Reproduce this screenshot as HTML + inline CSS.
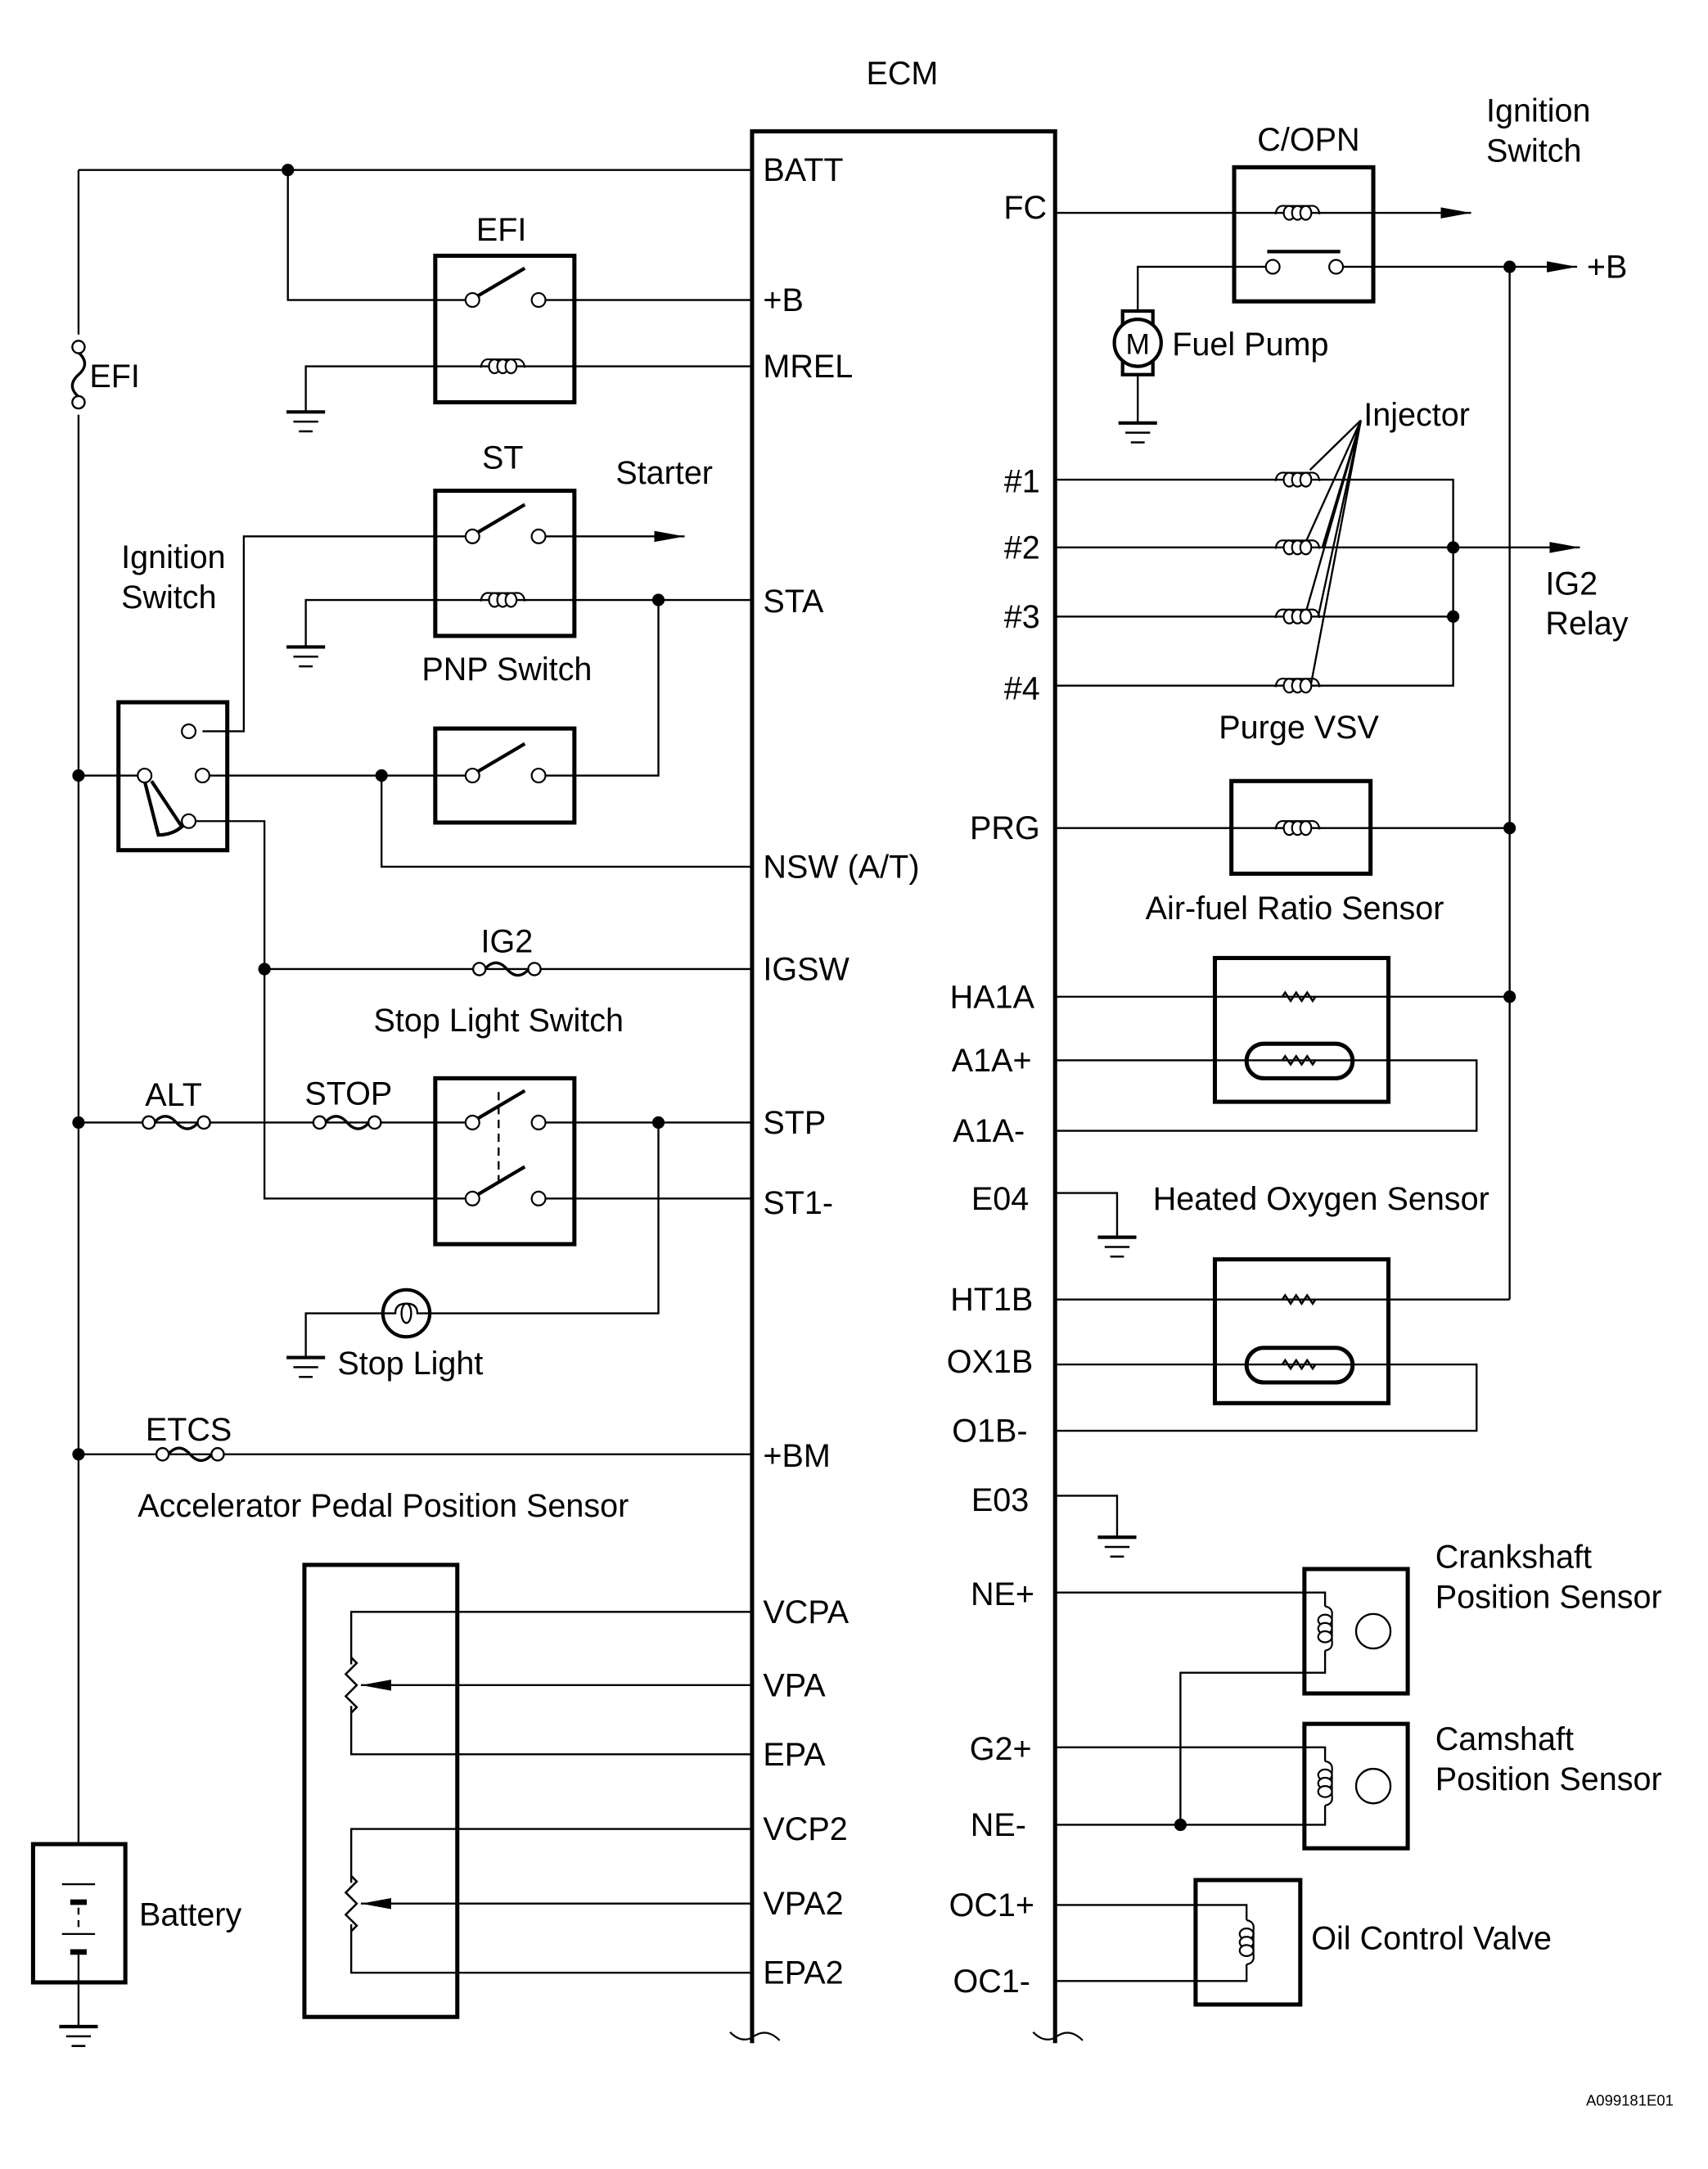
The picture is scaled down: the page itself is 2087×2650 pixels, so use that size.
<!DOCTYPE html>
<html><head><meta charset="utf-8"><style>
html,body{margin:0;padding:0;background:#fff}
svg{display:block}
text{font-family:"Liberation Sans",Arial,sans-serif;font-size:23.5px;fill:#000}
</style></head><body>
<svg width="2087" height="2650" viewBox="0 0 1240 1569" preserveAspectRatio="none" xmlns="http://www.w3.org/2000/svg">
<defs>
<g id="coil" fill="#fff" stroke="#000" stroke-width="1.3">
<path d="M-16,1 Q-15,-6 -9,-5 L9,-5 Q15,-6 16,1" fill="none"/>
<ellipse cx="-6" cy="0" rx="4" ry="5"/><ellipse cx="0" cy="0" rx="4" ry="5"/><ellipse cx="6" cy="0" rx="4" ry="5"/>
</g>
<g id="vcoil" fill="#fff" stroke="#000" stroke-width="1.3">
<path d="M0,-16 Q6,-15 5,-9 L5,9 Q6,15 0,16" fill="none"/>
<ellipse cx="0" cy="-6" rx="5" ry="4"/><ellipse cx="0" cy="0" rx="5" ry="4"/><ellipse cx="0" cy="6" rx="5" ry="4"/>
</g>
<g id="fuse" stroke="#000" stroke-width="1.4">
<path d="M-16,0 q8,-9 16,0 q8,9 16,0" fill="none" stroke-width="2"/>
<circle cx="-20" cy="0" r="4.5" fill="#fff"/><circle cx="20" cy="0" r="4.5" fill="#fff"/>
</g>
<g id="gnd" stroke="#000">
<line x1="-14" y1="0" x2="14" y2="0" stroke-width="2.5"/>
<line x1="-9" y1="7" x2="9" y2="7" stroke-width="1.5"/>
<line x1="-5" y1="14" x2="5" y2="14" stroke-width="1.5"/>
</g>
<g id="res" fill="none" stroke="#000" stroke-width="1.5">
<path d="M-12,0 l2,-3 l4,6 l4,-6 l4,6 l4,-6 l4,6 l2,-3"/>
</g>
<g id="vres" fill="none" stroke="#000" stroke-width="1.5">
<path d="M0,-20 l4,4 l-8,8 l8,8 l-8,8 l8,8 l-4,4"/>
</g>
<g id="sw" stroke="#000">
<line x1="4" y1="-3" x2="38" y2="-23" stroke-width="2.5"/>
<circle cx="0" cy="0" r="5" fill="#fff" stroke-width="1.3"/>
<circle cx="48" cy="0" r="5" fill="#fff" stroke-width="1.3"/>
</g>
<marker id="arr" viewBox="0 0 22 10" refX="22" refY="5" markerWidth="22" markerHeight="10" markerUnits="userSpaceOnUse" orient="auto">
<path d="M0,1 L22,5 L0,9 Z" fill="#000"/></marker>
</defs>

<g stroke="#000" stroke-width="1.4" fill="none">
<path d="M546,1478 V95 H766 V1478" stroke-width="3"/>
<path d="M530,1470 q8,8 16,4 q10,-8 20,2 M750,1470 q8,8 16,4 q10,-8 20,2" stroke-width="1.3"/>

<line x1="57" y1="123" x2="57" y2="242"/>
<line x1="57" y1="300" x2="57" y2="1334"/>
<line x1="57" y1="123" x2="546" y2="123"/>
<path d="M209,123 V217 H343"/>
<line x1="391" y1="217" x2="546" y2="217"/>
<rect x="316" y="185" width="101" height="106" stroke-width="3"/>
<path d="M222,298 V265 H546"/>
<rect x="316" y="355" width="101" height="105" stroke-width="3"/>
<path d="M147,529 H177 V388 H343"/>
<line x1="391" y1="388" x2="497" y2="388" marker-end="url(#arr)"/>
<path d="M222,468 V434 H546"/>
<path d="M478,434 V561 H391"/>
<rect x="316" y="527" width="101" height="68" stroke-width="3"/>
<line x1="57" y1="561" x2="105" y2="561"/>
<line x1="147" y1="561" x2="343" y2="561"/>
<path d="M277,561 V627 H546"/>
<rect x="86" y="508" width="79" height="107" stroke-width="3"/>
<path d="M105,565 L115,604 Q125,604 132,598 L110,565" stroke-width="2.5"/>
<path d="M142,594 H192 V867 H343"/>
<line x1="192" y1="701" x2="546" y2="701"/>
<rect x="316" y="780" width="101" height="120" stroke-width="3"/>
<line x1="57" y1="812" x2="343" y2="812"/>
<line x1="391" y1="812" x2="546" y2="812"/>
<line x1="391" y1="867" x2="546" y2="867"/>
<line x1="362" y1="790" x2="362" y2="854" stroke-dasharray="6,4"/>
<path d="M478,812 V950 H222 V982"/>
<circle cx="295" cy="950" r="17" fill="#fff" stroke-width="2.5"/>
<path d="M279,950 H287 Q287,943 295,943 Q303,943 303,950 H311"/>
<ellipse cx="295" cy="950" rx="3.5" ry="7"/>
<line x1="57" y1="1052" x2="546" y2="1052"/>
<rect x="221" y="1132" width="111" height="327" stroke-width="3"/>
<path d="M546,1166 H255 V1204 M255,1234 V1269 H546"/>
<line x1="546" y1="1219" x2="262" y2="1219" marker-end="url(#arr)"/>
<path d="M546,1323 H255 V1362 M255,1392 V1427 H546"/>
<line x1="546" y1="1377" x2="262" y2="1377" marker-end="url(#arr)"/>
<rect x="24" y="1334" width="67" height="100" stroke-width="3"/>
<line x1="45" y1="1363" x2="69" y2="1363"/>
<line x1="51" y1="1376" x2="63" y2="1376" stroke-width="4"/>
<line x1="57" y1="1380" x2="57" y2="1396" stroke-dasharray="5,4"/>
<line x1="45" y1="1399" x2="69" y2="1399"/>
<line x1="51" y1="1412" x2="63" y2="1412" stroke-width="4"/>
<line x1="57" y1="1414" x2="57" y2="1466"/>

<rect x="896" y="121" width="101" height="97" stroke-width="3"/>
<line x1="766" y1="154" x2="1068" y2="154" marker-end="url(#arr)"/>
<line x1="920" y1="182" x2="973" y2="182" stroke-width="2.5"/>
<path d="M919,193 H826 V225"/>
<line x1="975" y1="193" x2="1145" y2="193" marker-end="url(#arr)"/>
<line x1="1096" y1="193" x2="1096" y2="940"/>
<rect x="815" y="225" width="22" height="46" stroke-width="2.5"/>
<circle cx="826" cy="248" r="17" fill="#fff" stroke-width="2.5"/>
<line x1="826" y1="271" x2="826" y2="306"/>
<path d="M766,347 H1055 V496 H766"/>
<line x1="766" y1="396" x2="1147" y2="396" marker-end="url(#arr)"/>
<line x1="766" y1="446" x2="1055" y2="446"/>
<rect x="894" y="565" width="101" height="67" stroke-width="3"/>
<line x1="766" y1="599" x2="1096" y2="599"/>
<rect x="882" y="693" width="126" height="104" stroke-width="3"/>
<line x1="766" y1="721" x2="1096" y2="721"/>
<path d="M766,767 H1072 V818 H766"/>
<rect x="905" y="755" width="77" height="25" rx="12.5" fill="#fff" stroke-width="3"/>
<line x1="905" y1="767" x2="982" y2="767"/>
<path d="M766,863 H811 V895"/>
<rect x="882" y="911" width="126" height="104" stroke-width="3"/>
<line x1="766" y1="940" x2="1096" y2="940"/>
<path d="M766,987 H1072 V1035 H766"/>
<rect x="905" y="975" width="77" height="25" rx="12.5" fill="#fff" stroke-width="3"/>
<line x1="905" y1="987" x2="982" y2="987"/>
<path d="M766,1082 H811 V1112"/>
<rect x="947" y="1135" width="75" height="90" stroke-width="3"/>
<path d="M766,1152 H962 V1162 M962,1194 V1210 H857 V1320"/>
<circle cx="997" cy="1180" r="12.5"/>
<rect x="947" y="1247" width="75" height="90" stroke-width="3"/>
<path d="M766,1264 H962 V1274 M962,1306 V1320 H766"/>
<circle cx="997" cy="1292" r="12.5"/>
<rect x="868" y="1360" width="76" height="90" stroke-width="3"/>
<path d="M766,1378 H905 V1389 M905,1421 V1433 H766"/>
<path d="M988,304 L951,340 M988,304 L948,392 M988,304 L948,443 M988,304 L951,499 M988,304 L960,396 M988,304 L957,446"/>
</g>

<g transform="translate(57,271) rotate(90)"><use href="#fuse"/></g>
<use href="#gnd" x="222" y="298"/>
<use href="#gnd" x="222" y="468"/>
<use href="#gnd" x="222" y="982"/>
<use href="#gnd" x="57" y="1466"/>
<use href="#gnd" x="826" y="306"/>
<use href="#gnd" x="811" y="895"/>
<use href="#gnd" x="811" y="1112"/>
<use href="#sw" x="343" y="217"/>
<use href="#coil" x="365" y="265"/>
<use href="#sw" x="343" y="388"/>
<use href="#coil" x="365" y="434"/>
<use href="#sw" x="343" y="561"/>
<use href="#sw" x="343" y="812"/>
<use href="#sw" x="343" y="867"/>
<use href="#fuse" x="368" y="701"/>
<use href="#fuse" x="128" y="812"/>
<use href="#fuse" x="252" y="812"/>
<use href="#fuse" x="138" y="1052"/>
<use href="#vres" x="255" y="1219"/>
<use href="#vres" x="255" y="1377"/>
<use href="#coil" x="942" y="154"/>
<use href="#coil" x="942" y="347"/>
<use href="#coil" x="942" y="396"/>
<use href="#coil" x="942" y="446"/>
<use href="#coil" x="942" y="496"/>
<use href="#coil" x="942" y="599"/>
<use href="#res" x="943" y="721"/>
<use href="#res" x="943" y="767"/>
<use href="#res" x="943" y="940"/>
<use href="#res" x="943" y="987"/>
<use href="#vcoil" x="962" y="1178"/>
<use href="#vcoil" x="962" y="1290"/>
<use href="#vcoil" x="905" y="1405"/>
<g fill="#fff" stroke="#000" stroke-width="1.3">
<circle cx="137" cy="529" r="5"/><circle cx="147" cy="561" r="5"/><circle cx="137" cy="594" r="5"/><circle cx="105" cy="561" r="5"/>
<circle cx="924" cy="193" r="5"/><circle cx="970" cy="193" r="5"/>
</g>
<g fill="#000">
<circle cx="209" cy="123" r="4.5"/><circle cx="478" cy="434" r="4.5"/><circle cx="57" cy="561" r="4.5"/><circle cx="277" cy="561" r="4.5"/>
<circle cx="192" cy="701" r="4.5"/><circle cx="57" cy="812" r="4.5"/><circle cx="478" cy="812" r="4.5"/><circle cx="57" cy="1052" r="4.5"/>
<circle cx="1096" cy="193" r="4.5"/><circle cx="1055" cy="396" r="4.5"/><circle cx="1055" cy="446" r="4.5"/>
<circle cx="1096" cy="599" r="4.5"/><circle cx="1096" cy="721" r="4.5"/><circle cx="857" cy="1320" r="4.5"/>
</g>

<text x="655" y="61" text-anchor="middle">ECM</text>
<text x="554" y="131">BATT</text>
<text x="554" y="225">+B</text>
<text x="554" y="273">MREL</text>
<text x="554" y="443">STA</text>
<text x="554" y="635">NSW (A/T)</text>
<text x="554" y="709">IGSW</text>
<text x="554" y="820">STP</text>
<text x="554" y="878">ST1-</text>
<text x="554" y="1061">+BM</text>
<text x="554" y="1174">VCPA</text>
<text x="554" y="1227">VPA</text>
<text x="554" y="1277">EPA</text>
<text x="554" y="1331">VCP2</text>
<text x="554" y="1385">VPA2</text>
<text x="554" y="1435">EPA2</text>
<text x="364" y="174" text-anchor="middle">EFI</text>
<text x="65" y="280">EFI</text>
<text x="365" y="339" text-anchor="middle">ST</text>
<text x="447" y="350">Starter</text>
<text x="88" y="411">Ignition</text>
<text x="88" y="440">Switch</text>
<text x="368" y="492" text-anchor="middle">PNP Switch</text>
<text x="368" y="689" text-anchor="middle">IG2</text>
<text x="362" y="746" text-anchor="middle">Stop Light Switch</text>
<text x="126" y="800" text-anchor="middle">ALT</text>
<text x="253" y="799" text-anchor="middle">STOP</text>
<text x="245" y="994">Stop Light</text>
<text x="137" y="1042" text-anchor="middle">ETCS</text>
<text x="100" y="1097">Accelerator Pedal Position Sensor</text>
<text x="101" y="1393">Battery</text>

<g text-anchor="end">
<text x="760" y="158">FC</text>
<text x="755" y="356">#1</text>
<text x="755" y="404">#2</text>
<text x="755" y="454">#3</text>
<text x="755" y="506">#4</text>
<text x="755" y="607">PRG</text>
<text x="751" y="729">HA1A</text>
<text x="749" y="775">A1A+</text>
<text x="744" y="826">A1A-</text>
<text x="747" y="875">E04</text>
<text x="750" y="948">HT1B</text>
<text x="750" y="993">OX1B</text>
<text x="746" y="1043">O1B-</text>
<text x="747" y="1093">E03</text>
<text x="751" y="1161">NE+</text>
<text x="749" y="1273">G2+</text>
<text x="745" y="1328">NE-</text>
<text x="751" y="1386">OC1+</text>
<text x="748" y="1441">OC1-</text>
</g>
<text x="950" y="109" text-anchor="middle">C/OPN</text>
<text x="1079" y="88">Ignition</text>
<text x="1079" y="117">Switch</text>
<text x="1152" y="201">+B</text>
<text x="826" y="256" text-anchor="middle" style="font-size:21px">M</text>
<text x="851" y="257">Fuel Pump</text>
<text x="990" y="308">Injector</text>
<text x="1122" y="430">IG2</text>
<text x="1122" y="459">Relay</text>
<text x="943" y="534" text-anchor="middle">Purge VSV</text>
<text x="940" y="665" text-anchor="middle">Air-fuel Ratio Sensor</text>
<text x="837" y="875">Heated Oxygen Sensor</text>
<text x="1042" y="1134">Crankshaft</text>
<text x="1042" y="1163">Position Sensor</text>
<text x="1042" y="1266">Camshaft</text>
<text x="1042" y="1295">Position Sensor</text>
<text x="952" y="1410">Oil Control Valve</text>
<text x="1215" y="1523" text-anchor="end" style="font-size:11px">A099181E01</text>
</svg>
</body></html>
